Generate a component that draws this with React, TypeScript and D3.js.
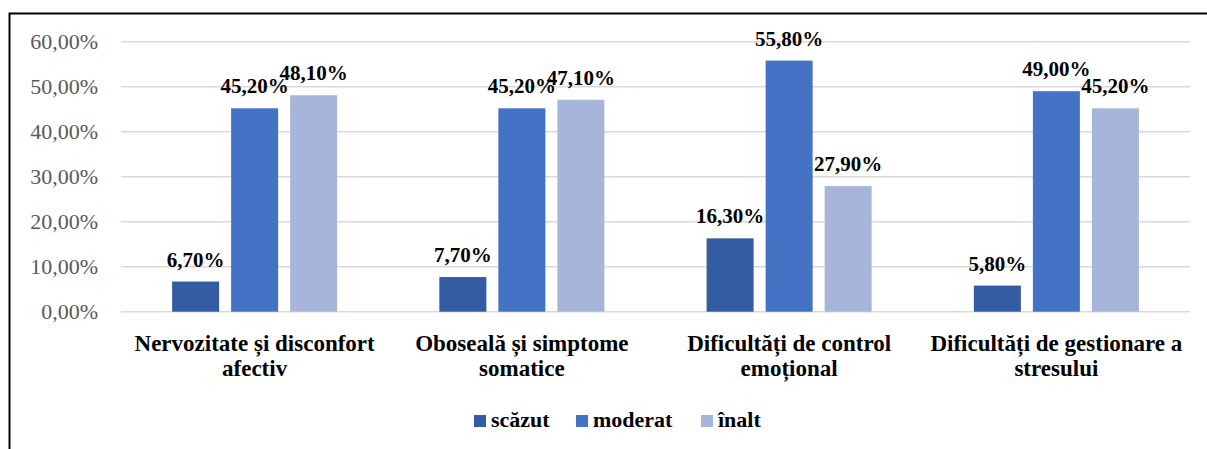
import { useEffect, useRef } from 'react';
import * as d3 from 'd3';

const categories = [
  ['Nervozitate și disconfort', 'afectiv'],
  ['Oboseală și simptome', 'somatice'],
  ['Dificultăți de control', 'emoțional'],
  ['Dificultăți de gestionare a', 'stresului'],
];
const seriesNames = ['scăzut', 'moderat', 'înalt'];
const scazut = [6.7, 7.7, 16.3, 5.8];
const moderat = [45.2, 45.2, 55.8, 49.0];
const inalt = [48.1, 47.1, 27.9, 45.2];
const yTicks = [0, 10, 20, 30, 40, 50, 60];
const colors = ['#345CA3', '#4472C4', '#A8B5DB'];

const fmt = (v: number) => v.toFixed(2).replace('.', ',') + '%';

export default function App() {
  const svgRef = useRef<SVGSVGElement | null>(null);

  useEffect(() => {
    const width = 1207;
    const height = 449;
    const svg = d3.select(svgRef.current).attr('width', width).attr('height', height);
    svg.selectAll('*').remove();

    const font = "'Liberation Serif', 'Times New Roman', 'DejaVu Serif', serif";
    const values = [scazut, moderat, inalt];
    const keys = categories.map((c) => c.join(' '));

    // cadre
    svg.append('rect')
      .attr('x', 9.5).attr('y', 13.5)
      .attr('width', 1300).attr('height', 500)
      .attr('fill', 'white').attr('stroke', '#000').attr('stroke-width', 2);

    const x0 = d3.scaleBand().domain(keys).range([121, 1190]);
    const x1 = d3.scaleBand().domain(seriesNames)
      .range([0, x0.bandwidth()]).paddingInner(0.2034).paddingOuter(0.866);
    const y = d3.scaleLinear().domain([0, 60]).range([311.7, 41.7]);

    // grille
    svg.append('g').selectAll('line').data(yTicks).join('line')
      .attr('x1', 121).attr('x2', 1190)
      .attr('y1', (d) => y(d)).attr('y2', (d) => y(d))
      .attr('stroke', '#D9D9D9').attr('stroke-width', 1.5);

    svg.append('g').selectAll('text').data(yTicks).join('text')
      .attr('x', 98).attr('y', (d) => y(d) + 7.5)
      .attr('text-anchor', 'end')
      .style('font-family', font).style('font-size', '22px').attr('fill', '#595959')
      .text((d) => fmt(d));

    // barres
    seriesNames.forEach((s, si) => {
      const g = svg.append('g');
      g.selectAll('rect').data(values[si]).join('rect')
        .attr('x', (_d, i) => x0(keys[i])! + x1(s)!)
        .attr('y', (d) => y(d))
        .attr('width', x1.bandwidth())
        .attr('height', (d) => y(0) - y(d))
        .attr('fill', colors[si]);
      g.selectAll('text').data(values[si]).join('text')
        .attr('x', (_d, i) => x0(keys[i])! + x1(s)! + x1.bandwidth() / 2)
        .attr('y', (d) => y(d) - 15)
        .attr('text-anchor', 'middle')
        .style('font-family', font).style('font-size', '21px').style('font-weight', 'bold')
        .attr('fill', '#000')
        .text((d) => fmt(d));
    });

    // étiquettes des catégories
    categories.forEach((lines, i) => {
      const cx = x0(keys[i])! + x0.bandwidth() / 2;
      svg.append('text')
        .attr('x', cx).attr('y', 351)
        .attr('text-anchor', 'middle')
        .style('font-family', font).style('font-size', '23px').style('font-weight', 'bold')
        .selectAll('tspan').data(lines).join('tspan')
        .attr('x', cx).attr('dy', (_d, j) => (j === 0 ? 0 : 25))
        .text((d) => d);
    });

    // légende
    const legendX = [474, 576, 701];
    seriesNames.forEach((s, si) => {
      svg.append('rect')
        .attr('x', legendX[si]).attr('y', 415)
        .attr('width', 12).attr('height', 12)
        .attr('fill', colors[si]);
      svg.append('text')
        .attr('x', legendX[si] + 17).attr('y', 427)
        .style('font-family', font).style('font-size', '22px').style('font-weight', 'bold')
        .text(s);
    });
  }, []);

  return <svg ref={svgRef} style={{ position: 'absolute', left: 0, top: 0 }}></svg>;
}
